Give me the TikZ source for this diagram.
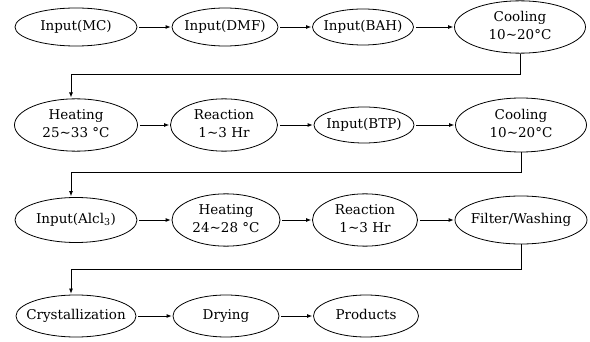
\documentclass[tikz,border=0pt]{standalone}
\usepackage{fontspec}
\setmainfont{DejaVu Serif}
\usetikzlibrary{arrows.meta, shapes.geometric, positioning}
\newcommand{\tx}[1]{\makebox[0pt]{\begin{tabular}{@{}c@{}}#1\end{tabular}}}
\newcommand{\tld}{\textasciitilde}

\begin{document}
\begin{tikzpicture}[x=1pt, y=-1pt, on grid,
        proc/.style={ellipse, draw, line width=0.8pt, inner sep=0pt, minimum height=38pt},
        >={Latex[length=5pt,width=4pt]}, shorten >=1pt, shorten <=2pt,
        font=\fontsize{13.5}{18.5}\selectfont]
        \useasboundingbox (0,0) rectangle (590,342);

        % row 1
        \node[proc, minimum width=122pt]                       (mc)     at (76,27)        {\tx{Input(MC)}};
        \node[proc, minimum width=106pt]                       (dmf)    [right=149pt of mc]    {\tx{Input(DMF)}};
        \node[proc, minimum width=101pt, minimum height=36pt]  (bah)    [right=138pt of dmf]   {\tx{Input(BAH)}};
        \node[proc, minimum width=131pt, minimum height=52pt]  (cool1)  [right=157pt of bah]   {\tx{Cooling\\10\tld20°C}};

        % row 2
        \node[proc, minimum width=123pt, minimum height=50pt]  (heat1)  [below=98pt of mc]     {\tx{Heating\\25\tld33 °C}};
        \node[proc, minimum width=107pt, minimum height=48pt]  (react1) [right=148pt of heat1] {\tx{Reaction\\1\tld3 Hr}};
        \node[proc, minimum width=100pt, minimum height=36pt]  (btp)    [right=140pt of react1]{\tx{Input(BTP)}};
        \node[proc, minimum width=131pt, minimum height=54pt]  (cool2)  [right=157pt of btp]   {\tx{Cooling\\10\tld20°C}};

        % row 3
        \node[proc, minimum width=122pt, minimum height=45pt]  (alcl)   [below=95pt of heat1]  {\tx{Input(Alcl\textsubscript{3})}};
        \node[proc, minimum width=108pt, minimum height=48pt]  (heat2)  [right=150pt of alcl]  {\tx{Heating\\24\tld28 °C}};
        \node[proc, minimum width=105pt, minimum height=48pt]  (react2) [right=139pt of heat2] {\tx{Reaction\\1\tld3 Hr}};
        \node[proc, minimum width=132pt, minimum height=48pt]  (filter) [right=156pt of react2]{\tx{Filter/Washing}};

        % row 4
        \node[proc, minimum width=120pt, minimum height=42pt]  (cryst)  [below=96pt of alcl]   {\tx{Crystallization}};
        \node[proc, minimum width=106pt, minimum height=42pt]  (dry)    [right=150pt of cryst] {\tx{Drying}};
        \node[proc, minimum width=105pt, minimum height=42pt]  (prod)   [right=140pt of dry]   {\tx{Products}};

        \path[->, line width=0.8pt]
        (mc) edge (dmf)  (dmf) edge (bah)  (bah) edge (cool1)
        (heat1) edge (react1)  (react1) edge (btp)  (btp) edge (cool2)
        (alcl) edge (heat2)  (heat2) edge (react2)  (react2) edge (filter)
        (cryst) edge (dry)  (dry) edge (prod)
        ;

        % row to row
        \draw[->, line width=0.8pt, shorten <=0pt] (cool1.south) -- ++(0,21) -| ([xshift=-5pt]heat1.north);
        \draw[->, line width=0.8pt, shorten <=0pt] (cool2.south) -- ++(0,20) -| ([xshift=-5pt]alcl.north);
        \draw[->, line width=0.8pt, shorten <=0pt] (filter.south) -- ++(0,25) -| ([xshift=-5pt]cryst.north);
    \end{tikzpicture}
\end{document}
